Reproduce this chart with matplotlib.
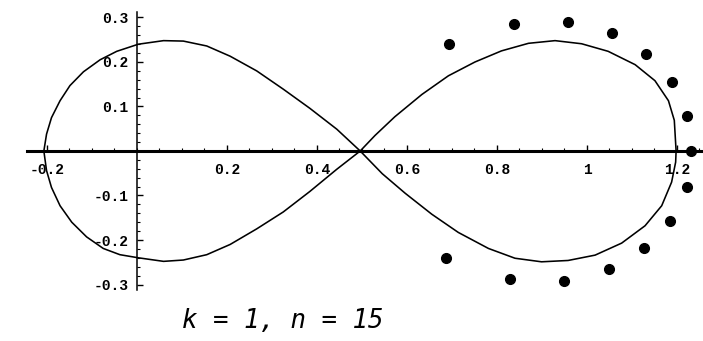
import numpy as np
import matplotlib
matplotlib.use('Agg')
import matplotlib.pyplot as plt
from matplotlib.ticker import FixedLocator

# figure-eight curve, traced lobe by lobe (upper and lower halves)
left_upper_x = [-0.207, -0.201, -0.190, -0.171, -0.149, -0.119, -0.082, -0.045, 0.003,
                0.059, 0.103, 0.155, 0.207, 0.266, 0.325, 0.384, 0.444, 0.496]
left_upper_y = [0.000, 0.038, 0.075, 0.113, 0.147, 0.178, 0.205, 0.224, 0.240,
                0.248, 0.247, 0.236, 0.213, 0.180, 0.139, 0.096, 0.049, 0.000]
left_lower_x = [-0.207, -0.201, -0.190, -0.171, -0.145, -0.112, -0.075, -0.038, 0.003,
                0.059, 0.103, 0.155, 0.207, 0.266, 0.325, 0.384, 0.444, 0.496]
left_lower_y = [0.000, -0.044, -0.082, -0.123, -0.160, -0.193, -0.219, -0.233, -0.240,
                -0.248, -0.245, -0.233, -0.210, -0.175, -0.137, -0.091, -0.041, 0.000]

right_upper_x = [0.496, 0.529, 0.573, 0.633, 0.692, 0.751, 0.810, 0.870, 0.929,
                 0.988, 1.047, 1.107, 1.151, 1.181, 1.194, 1.198]
right_upper_y = [0.000, 0.035, 0.077, 0.127, 0.169, 0.200, 0.225, 0.242, 0.248,
                 0.241, 0.224, 0.194, 0.158, 0.113, 0.069, 0.000]
right_lower_x = [0.496, 0.545, 0.596, 0.655, 0.714, 0.781, 0.840, 0.899, 0.958,
                 1.018, 1.077, 1.129, 1.166, 1.188, 1.197, 1.198]
right_lower_y = [0.000, -0.051, -0.095, -0.142, -0.183, -0.219, -0.241, -0.249, -0.246,
                 -0.234, -0.207, -0.168, -0.123, -0.070, -0.025, 0.000]

# the n = 15 points around the right lobe
pts_x = [0.694, 0.838, 0.957, 1.056, 1.132, 1.188, 1.223, 1.232,
         1.222, 1.184, 1.126, 1.049, 0.948, 0.830, 0.687]
pts_y = [0.240, 0.285, 0.291, 0.265, 0.217, 0.155, 0.079, 0.000,
         -0.081, -0.157, -0.219, -0.266, -0.293, -0.288, -0.240]

xticks = [-0.2, 0.2, 0.4, 0.6, 0.8, 1.0, 1.2]
xticklabels = ['-0.2', '0.2', '0.4', '0.6', '0.8', '1', '1.2']
yticks = [-0.3, -0.2, -0.1, 0.1, 0.2, 0.3]
yticklabels = ['-0.3', '-0.2', '-0.1', '0.1', '0.2', '0.3']

W, H = 703, 341
fig = plt.figure(figsize=(W / 100, H / 100), dpi=100)
ax = fig.add_axes([0, 0, 1, 1])
ax.patch.set_visible(False)

# pixel scale: x0 at 137 px, 450 px per unit; y0 at 151 px, 445 px per unit
ax.set_xlim((0 - 137) / 450, (W - 137) / 450)
ax.set_ylim((151 - H) / 445, 151 / 445)

lx = left_upper_x + left_lower_x[::-1]
ly = left_upper_y + left_lower_y[::-1]
rx = right_upper_x + right_lower_x[::-1]
ry = right_upper_y + right_lower_y[::-1]
ax.plot(lx, ly, color='black', lw=1.15, solid_joinstyle='round')
ax.plot(rx, ry, color='black', lw=1.15, solid_joinstyle='round')

ax.plot(pts_x, pts_y, 'o', color='black', ms=7, mec='black')

# Mathematica-style axes crossing at the origin
for s in ['top', 'right']:
    ax.spines[s].set_visible(False)
ax.spines['bottom'].set_position(('data', 0))
ax.spines['left'].set_position(('data', 0))
ax.spines['bottom'].set_linewidth(2.2)
ax.spines['left'].set_linewidth(1.1)
ax.spines['bottom'].set_bounds((27 - 137) / 450, (W - 137) / 450)
ax.spines['left'].set_bounds(-0.313, 0.313)

ax.set_xticks(xticks)
ax.set_xticklabels(xticklabels)
ax.set_yticks(yticks)
ax.set_yticklabels(yticklabels)
ax.xaxis.set_minor_locator(FixedLocator(np.arange(-0.2, 1.26, 0.05)))
ax.yaxis.set_minor_locator(FixedLocator(np.arange(-0.3, 0.31, 0.02)))
ax.tick_params(which='major', direction='in', length=4, width=1.0)
ax.tick_params(which='minor', direction='in', length=2, width=0.8)
ax.tick_params(axis='x', which='major', pad=9)
ax.tick_params(axis='y', which='major', pad=6)

for lab in ax.get_xticklabels() + ax.get_yticklabels():
    lab.set_fontfamily('Liberation Mono')
    lab.set_fontweight('bold')
    lab.set_fontsize(10.5)

fig.text(182 / W, 1 - 321 / H, 'k = 1, n = 15', ha='left', va='center',
         fontsize=18.5, style='italic', family='DejaVu Sans Mono')

fig.savefig('out.png', dpi=100)
